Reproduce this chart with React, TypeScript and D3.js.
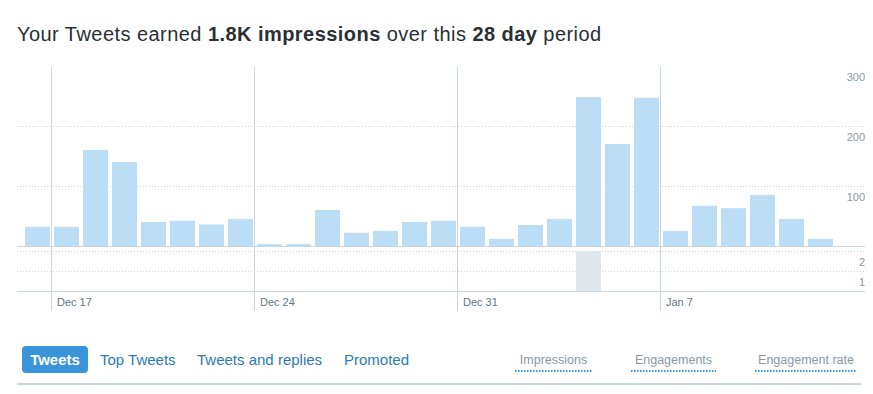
import * as d3 from "d3";
import { useEffect, useRef } from "react";

const days = [
    "Dec 16", "Dec 17", "Dec 18", "Dec 19", "Dec 20", "Dec 21", "Dec 22", "Dec 23",
    "Dec 24", "Dec 25", "Dec 26", "Dec 27", "Dec 28", "Dec 29", "Dec 30", "Dec 31",
    "Jan 1", "Jan 2", "Jan 3", "Jan 4", "Jan 5", "Jan 6", "Jan 7", "Jan 8",
    "Jan 9", "Jan 10", "Jan 11", "Jan 12", "Jan 13",
];
const impressions = [
    32, 32, 160, 140, 40, 42, 36, 45, 3, 3, 60, 22, 25, 40, 42, 32,
    12, 35, 45, 248, 170, 247, 25, 67, 63, 85, 45, 12, 0,
];
const engagements = [
    0, 0, 0, 0, 0, 0, 0, 0, 0, 0, 0, 0, 0, 0, 0, 0,
    0, 0, 0, 2, 0, 0, 0, 0, 0, 0, 0, 0, 0,
];
const tickDays = ["Dec 17", "Dec 24", "Dec 31", "Jan 7"];
const impTicks = [100, 200, 300];
const engTicks = [1, 2];
const tabs = ["Tweets", "Top Tweets", "Tweets and replies", "Promoted"];
const metrics = ["Impressions", "Engagements", "Engagement rate"];

const FONT = "'Liberation Sans', Arial, sans-serif";

export default function App() {
    const ref = useRef<SVGSVGElement | null>(null);

    useEffect(() => {
        if (!ref.current) return;
        const svg = d3.select(ref.current);
        svg.selectAll("*").remove();
        svg.attr("font-family", FONT);

        const left = 17, right = 865;
        const x = d3.scaleBand<string>()
            .domain(days)
            .range([23, 864])
            .paddingInner(4 / 29)
            .paddingOuter(2 / 29);
        const yImp = d3.scaleLinear().domain([0, 300]).range([246, 66]);
        const yEng = d3.scaleLinear().domain([0, 2]).range([291, 251]);
        const gap = (x.step() - x.bandwidth()) / 2;

        // title
        const title = svg.append("text")
            .attr("x", 17).attr("y", 41)
            .attr("font-size", 20)
            .attr("letter-spacing", 0.45)
            .attr("fill", "#292f33");
        title.append("tspan").text("Your Tweets earned ");
        title.append("tspan").attr("font-weight", "bold").text("1.8K impressions");
        title.append("tspan").text(" over this ");
        title.append("tspan").attr("font-weight", "bold").text("28 day");
        title.append("tspan").text(" period");

        // dotted gridlines
        const grid = svg.append("g")
            .attr("stroke", "#ccd6dd")
            .attr("stroke-dasharray", "1,2");
        grid.selectAll("line.imp")
            .data(impTicks.filter(t => t < 300))
            .join("line")
            .attr("x1", left).attr("x2", right)
            .attr("y1", d => Math.round(yImp(d)) + 0.5)
            .attr("y2", d => Math.round(yImp(d)) + 0.5);
        grid.selectAll("line.eng")
            .data(engTicks)
            .join("line")
            .attr("x1", left).attr("x2", right)
            .attr("y1", d => Math.round(yEng(d)) + 0.5)
            .attr("y2", d => Math.round(yEng(d)) + 0.5);

        // vertical week lines
        svg.append("g")
            .selectAll("line")
            .data(tickDays)
            .join("line")
            .attr("x1", d => Math.round(x(d)! - gap) - 0.5)
            .attr("x2", d => Math.round(x(d)! - gap) - 0.5)
            .attr("y1", 67).attr("y2", 311)
            .attr("stroke", "#ccd6dd");

        // impressions bars
        svg.append("g")
            .selectAll("rect")
            .data(days)
            .join("rect")
            .attr("x", d => x(d)!)
            .attr("width", x.bandwidth())
            .attr("y", (d, i) => yImp(impressions[i]))
            .attr("height", (d, i) => yImp(0) - yImp(impressions[i]))
            .attr("fill", "#bbddf5");

        // engagement bars
        svg.append("g")
            .selectAll("rect")
            .data(days)
            .join("rect")
            .attr("x", d => x(d)!)
            .attr("width", x.bandwidth())
            .attr("y", (d, i) => yEng(engagements[i]))
            .attr("height", (d, i) => yEng(0) - yEng(engagements[i]))
            .attr("fill", "#e1e8ed");

        // baselines
        svg.append("line")
            .attr("x1", left).attr("x2", right)
            .attr("y1", yImp(0) + 0.5).attr("y2", yImp(0) + 0.5)
            .attr("stroke", "#ccd6dd");
        svg.append("line")
            .attr("x1", left).attr("x2", right)
            .attr("y1", yEng(0) + 0.5).attr("y2", yEng(0) + 0.5)
            .attr("stroke", "#ccd6dd");

        // y labels
        svg.append("g")
            .attr("font-size", 11)
            .attr("fill", "#8899a6")
            .attr("text-anchor", "end")
            .selectAll("text")
            .data(impTicks)
            .join("text")
            .attr("x", right)
            .attr("y", d => yImp(d) + 15)
            .text(d => d);
        svg.append("g")
            .attr("font-size", 11)
            .attr("fill", "#8899a6")
            .attr("text-anchor", "end")
            .selectAll("text")
            .data(engTicks)
            .join("text")
            .attr("x", right)
            .attr("y", d => yEng(d) + 15)
            .text(d => d);

        // x labels
        svg.append("g")
            .attr("font-size", 11)
            .attr("fill", "#66757f")
            .selectAll("text")
            .data(tickDays)
            .join("text")
            .attr("x", d => x(d)! + 3)
            .attr("y", 306)
            .text(d => d);

        // tabs
        const tabX = [22, 100, 197, 344];
        svg.append("rect")
            .attr("x", 22).attr("y", 346)
            .attr("width", 66).attr("height", 27)
            .attr("rx", 4)
            .attr("fill", "#3b94d9");
        svg.append("g")
            .attr("font-size", 15)
            .selectAll("text")
            .data(tabs)
            .join("text")
            .attr("x", (d, i) => i === 0 ? 55 : tabX[i])
            .attr("y", 365)
            .attr("text-anchor", (d, i) => i === 0 ? "middle" : "start")
            .attr("font-weight", (d, i) => i === 0 ? "bold" : "normal")
            .attr("fill", (d, i) => i === 0 ? "#ffffff" : "#2b7bb9")
            .text(d => d);

        // metric links
        const metricX = [553.5, 673.5, 806];
        const metricW = [77, 85, 102];
        svg.append("g")
            .attr("font-size", 12.5)
            .attr("fill", "#8899a6")
            .attr("text-anchor", "middle")
            .selectAll("text")
            .data(metrics)
            .join("text")
            .attr("x", (d, i) => metricX[i])
            .attr("y", 364)
            .text(d => d);
        svg.append("g")
            .attr("stroke", "#3b94d9")
            .attr("stroke-width", 2)
            .attr("stroke-dasharray", "1.5,1.5")
            .selectAll("line")
            .data(metrics)
            .join("line")
            .attr("x1", (d, i) => metricX[i] - metricW[i] / 2)
            .attr("x2", (d, i) => metricX[i] + metricW[i] / 2)
            .attr("y1", 371).attr("y2", 371);

        svg.append("line")
            .attr("x1", 17).attr("x2", 861)
            .attr("y1", 384).attr("y2", 384)
            .attr("stroke", "#ccd6dd")
            .attr("stroke-width", 2);
    }, []);

    return (
        <svg
            ref={ref}
            width={873}
            height={394}
            style={{ position: "absolute", left: 0, top: 0, background: "#fff" }}
        />
    );
}
